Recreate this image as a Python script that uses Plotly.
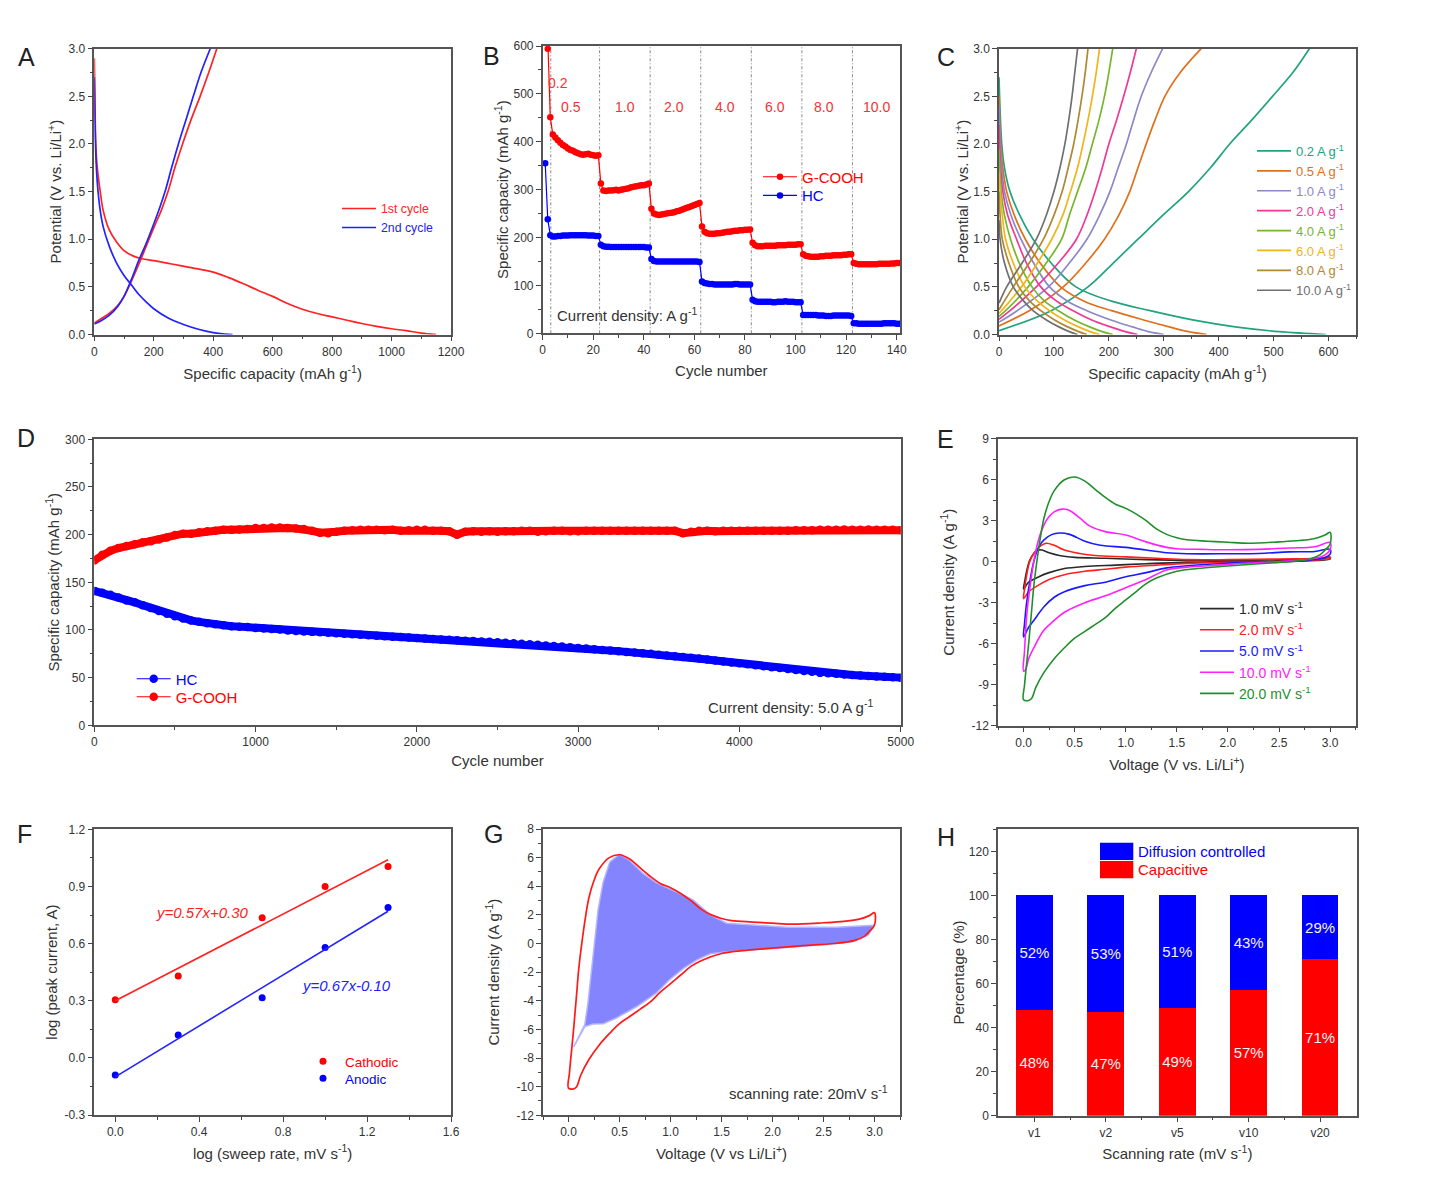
import plotly.graph_objects as go

FONT = "Liberation Sans"
FW, FH = 1410, 1165   # figure size; the page adds an 8 px body margin
RED, BLUE = "#ff0000", "#0000ff"

# ---------- A ----------
a_dis1_x = [0,2,5,10,20,30,50,75,100,130,160,200,260,330,400,450,500,550,600,650,700,750,800,850,900,950,1000,1050,1100,1150]
a_dis1_y = [2.9,2.5,2.0,1.75,1.5,1.3,1.1,.97,.88,.825,.795,.775,.74,.70,.655,.60,.535,.465,.40,.325,.265,.22,.185,.15,.115,.085,.06,.04,.015,0]
a_ch1_x = [0,20,50,80,100,125,150,175,200,225,248,272,297,325,356,385,412]
a_ch1_y = [.12,.16,.22,.31,.40,.56,.74,.93,1.12,1.3,1.5,1.76,2.0,2.25,2.5,2.75,3.0]
a_dis2_x = [0,2,5,10,20,30,50,75,100,125,150,175,200,250,300,350,400,440,465]
a_dis2_y = [2.7,2.3,1.9,1.6,1.3,1.13,.93,.75,.62,.52,.42,.34,.27,.17,.105,.055,.02,.005,0]
a_ch2_x = [0,20,50,80,100,125,150,175,200,220,238,260,283,308,333,360,390]
a_ch2_y = [.11,.14,.2,.3,.4,.58,.78,.96,1.16,1.33,1.5,1.75,2.0,2.25,2.5,2.76,3.0]

# ---------- B ----------
b_cycles = list(range(1, 142))
b_gcooh = [780,594,451,415,409,403,398,393,390,386,383,381,378,376,374,373,374,375,373,372,371,372,
 313,298,297,298,298,299,300,298,300,301,302,303,305,306,307,308,309,309,311,313,
 260,250,248,247,248,249,250,251,252,253,255,256,258,260,262,264,266,268,270,272,
 223,212,209,208,208,208,209,209,210,211,212,212,213,214,214,215,215,216,216,217,
 189,184,182,182,182,183,183,183,183,183,184,184,184,184,185,185,185,185,186,186,
 165,162,161,160,160,160,160,161,161,162,162,162,163,163,163,163,164,164,165,165,
 147,145,144,144,144,144,144,144,144,144,145,145,145,145,145,146,146,147,147]
b_hc = [355,238,205,202,202,203,203,204,204,204,205,205,205,205,205,205,205,204,204,204,203,203,
 185,182,181,181,180,180,180,180,180,180,180,180,180,180,180,180,180,180,179,179,
 155,151,150,150,150,150,150,150,150,150,150,150,150,150,150,150,150,150,150,149,
 108,105,104,103,103,102,102,102,102,102,102,102,102,103,103,102,102,102,102,102,
 70,67,66,66,66,66,66,66,65,65,66,66,66,67,66,66,66,65,65,65,
 38,38,38,38,38,38,37,37,37,36,36,36,37,37,37,37,37,37,37,36,
 21,21,20,20,20,20,20,20,20,20,20,20,21,21,21,21,21,20,20]
b_boundaries = [3.2,22.5,42.5,62.5,82.5,102.5,122.5]
b_rate_labels = ["0.2","0.5","1.0","2.0","4.0","6.0","8.0","10.0"]
b_rate_x = [6.1,11.3,32.5,52,72,92,111.3,132]
b_rate_y = [522,472,472,472,472,472,472,472]

# ---------- C ----------
c_names = ["0.2 A g<sup>-1</sup>","0.5 A g<sup>-1</sup>","1.0 A g<sup>-1</sup>","2.0 A g<sup>-1</sup>",
           "4.0 A g<sup>-1</sup>","6.0 A g<sup>-1</sup>","8.0 A g<sup>-1</sup>","10.0 A g<sup>-1</sup>"]
c_colors = ["#22a37f","#e0701c","#8c88c8","#ee3a96","#76b52e","#f0b51a","#b08732","#707070"]
c_dis_y = [[2.7,2.0,1.75,1.5,1.25,1,.75,.5,.35,.25,.15,.08,.03,0],
           [2.5,2.0,1.75,1.5,1.25,1,.75,.5,.35,.25,.15,.08,.03,0],
           [2.4,2.0,1.75,1.5,1.25,1,.75,.5,.35,.25,.15,.08,.03,0],
           [2.2,1.75,1.5,1.25,1,.75,.5,.35,.25,.15,.08,.03,0],
           [1.95,1.75,1.5,1.25,1,.75,.5,.35,.25,.15,.08,.03,0],
           [1.7,1.5,1.25,1,.75,.5,.35,.25,.15,.08,.03,0],
           [1.5,1.25,1,.75,.5,.35,.25,.15,.08,.03,0],
           [1.2,1,.75,.5,.35,.25,.15,.08,.03,0]]
c_dis_x = [[0,5,10,20,38,62,95,140,205,275,355,430,510,595],
           [0,3,7,14,28,48,75,112,155,205,265,310,345,378],
           [0,2,5,10,22,40,63,92,125,160,205,243,272,300],
           [0,3,7,16,32,50,76,105,135,170,203,230,252],
           [0,1.5,4,10,21,37,60,83,108,138,165,188,207],
           [0,2,6,12,26,47,70,92,120,145,166,183],
           [0,2,6,18,36,56,76,102,125,145,160],
           [0,2,10,26,45,62,87,109,128,143]]
c_ch_y = [[.04,.25,.5,.75,1,1.25,1.5,1.75,2,2.25,2.5,2.75,3],
          [.09,.25,.5,.75,1,1.25,1.5,1.75,2,2.25,2.5,2.75,3],
          [.13,.25,.5,.75,1,1.25,1.5,1.75,2,2.25,2.5,2.75,3],
          [.16,.25,.5,.75,1,1.25,1.5,1.75,2,2.25,2.5,2.75,3],
          [.19,.25,.5,.75,1,1.25,1.5,1.75,2,2.25,2.5,2.75,3],
          [.22,.5,.75,1,1.25,1.5,1.75,2,2.25,2.5,2.75,3],
          [.26,.5,.75,1,1.25,1.5,1.75,2,2.25,2.5,2.75,3],
          [.33,.5,.75,1,1.25,1.5,1.75,2,2.25,2.5,2.75,3]]
c_ch_x = [[0,95,162,208,253,298,345,385,420,460,498,535,565],
          [0,55,117,158,192,218,238,253,268,284,302,330,368],
          [0,33,90,128,160,183,202,217,232,245,259,277,298],
          [0,20,68,108,141,160,175,188,200,214,227,239,250],
          [0,12,53,86,114,128,143,158,170,182,192,200,207],
          [0,41,70,96,116,130,143,153,162,170,177,183],
          [0,26,55,81,100,115,126,136,144,151,157,162],
          [0,14,42,68,86,100,111,120,127,133,138,143]]

# ---------- D ----------
d_cycles = list(range(0, 5001, 50))
d_hc = [141,139,137,134,131,129,126,123,120,117,114.5,112,110,108.5,107,106,105,104,103.5,103,102,101.5,101,100.5,99.5,99,98.5,98,97.5,97,96.5,96,
 95.5,95,94.5,94,93.5,93,92.5,92,91.5,91,90.5,90,89.7,89.3,88.8,88.5,88,87.6,87.2,86.6,86,85.5,85,84.4,83.8,83.2,82.6,82,81,80.5,79.8,79,78.4,77.8,77,76.4,75.7,75,74,73.3,72.5,71.6,70.8,70,69,68,67,66,65,64,63,62,61,60.2,59,58,57,56.2,55,54.6,54,53.4,52.8,52.2,51.8,51.3,50.8,50.4,50]
d_gcooh = [173,179,183,186,188,190,192,193,195,197,
 199.5,201,201,202.5,203.5,204,205,205,205.5,206,
 207,207,207.5,207.5,207,206.5,206,204,202,201.5,
 203,204,204.5,205,205,205,204.5,205,204,204.5,
 205,205,204,204,203.5,200,203,203.5,203,203.5,
 203,203.5,203.5,204,204,203,203.5,204,204,203.5,
 203.5,204,204,204,204,204,204,204,204,204,
 204,204,204,201.5,203,204,204,203.5,204,204,
 204,204,204,204,204,204,204,204.5,204.5,204.5,
 205,205,205,205.5,205,205,205.5,205,205,205,204.5]

# ---------- E / G ----------
e_names = ["1.0 mV s<sup>-1</sup>","2.0 mV s<sup>-1</sup>","5.0 mV s<sup>-1</sup>","10.0 mV s<sup>-1</sup>","20.0 mV s<sup>-1</sup>"]
e_colors = ["#2a2a2a","#ff2020","#1a1aff","#ff20ff","#1f8f2a"]
e_x1 = [0,.01,.03,.06,.1,.14,.18,.25,.35,.5,.8,1.2,1.6,2,2.5,2.9,3,3,2.8,2.4,2,1.6,1.2,.9,.6,.4,.25,.15,.05,0]
e_y1 = [-2,-1.5,-.7,.1,.6,.85,.85,.65,.45,.32,.25,.15,.1,.1,.13,.18,.3,.2,.08,0,-.02,-.05,-.15,-.25,-.35,-.5,-.8,-1.1,-1.5,-2]
e_x2 = [0,.01,.03,.06,.1,.15,.22,.3,.4,.55,.7,1,1.3,1.6,2,2.5,2.9,3,3,2.8,2.4,2,1.6,1.3,1,.8,.6,.4,.25,.15,.05,0]
e_y2 = [-2.7,-2,-1,0,.6,1.05,1.35,1.2,.85,.6,.45,.35,.25,.15,.15,.2,.25,.35,.25,.1,0,-.05,-.12,-.25,-.4,-.55,-.7,-.95,-1.3,-1.7,-2.2,-2.7]
e_x5 = [0,.01,.03,.06,.1,.15,.2,.28,.35,.45,.6,.75,1,1.2,1.4,1.6,2,2.3,2.6,2.85,3,3,2.95,2.8,2.5,2.2,1.9,1.6,1.4,1.2,1,.8,.6,.4,.3,.2,.1,.05,0]
e_y5 = [-5.5,-4.5,-3,-1.5,0,1.1,1.6,2,2.1,2,1.5,1.2,1.05,.85,.65,.58,.58,.6,.72,.75,.9,.55,.3,.12,0,-.05,-.15,-.3,-.45,-.8,-1.1,-1.5,-1.75,-2.2,-2.6,-3.3,-4.3,-4.8,-5.5]
e_x10 = [0,.01,.03,.06,.1,.15,.2,.25,.3,.38,.45,.55,.65,.8,1,1.2,1.4,1.5,1.75,2,2.3,2.6,2.85,3,3,2.95,2.85,2.5,2.2,1.9,1.6,1.4,1.2,1,.8,.6,.4,.3,.2,.1,.05,.02,0]
e_y10 = [-8,-6.5,-4,-2,0,1.7,2.7,3.3,3.65,3.85,3.75,3.2,2.6,2.2,1.95,1.45,1.05,.95,.9,.87,.9,1,1.1,1.4,.9,.5,.25,0,-.1,-.25,-.4,-.6,-1.3,-1.9,-2.5,-3,-3.7,-4.3,-5,-6.3,-7.1,-7.9,-8]
e_x20 = [0,.01,.05,.08,.1,.13,.17,.2,.25,.3,.4,.5,.6,.7,.8,.9,1,1.1,1.2,1.3,1.4,1.5,1.6,1.8,2,2.2,2.5,2.7,2.85,2.95,3,3,2.95,2.9,2.8,2.6,2.3,2,1.7,1.5,1.3,1.2,1.1,1,.9,.8,.7,.6,.5,.4,.3,.2,.12,.08,.05,0]
e_y20 = [-10.1,-9,-6,-3.5,-1.8,0,2,3.2,4.4,5.2,6,6.2,5.9,5.3,4.7,4.2,3.9,3.5,3,2.4,2,1.75,1.6,1.5,1.42,1.35,1.45,1.55,1.7,1.95,2.15,1.3,.85,.5,.2,0,-.15,-.32,-.5,-.7,-1.2,-1.6,-2.2,-2.8,-3.4,-4.1,-4.6,-5.1,-5.6,-6.3,-7.1,-8.1,-9.2,-10,-10.15,-10.1]
g_cap_x = [.05,.16,.19,.24,.29,.34,.405,.5,.6,.73,.86,1.06,1.22,1.39,1.55,1.81,2.14,2.63,3,2.94,2.79,2.56,1.98,1.58,1.39,1.26,1.13,.99,.86,.67,.47,.34,.24,.16,.05]
g_cap_y = [-7.23,-5.67,-4.2,-1.1,2.35,4.3,5.7,6.25,5.8,4.9,4.25,3.6,3.05,2,1.42,1.3,1.14,1.14,1.28,.6,.14,-.05,-.33,-.56,-.72,-1.14,-1.72,-2.53,-3.47,-4.4,-5.2,-5.6,-5.63,-5.8,-7.23]

# ---------- F ----------
f_x = [0,.3,.7,1,1.3]
f_cath = [.305,.43,.735,.9,1.005]
f_anod = [-.09,.12,.315,.58,.79]
f_fit_x = [0,1.3]
f_fit_cath = [.30,1.04]
f_fit_anod = [-.10,.77]

# ---------- H ----------
h_cats = ["v1","v2","v5","v10","v20"]
h_pos = [0,1,2,3,4]
h_cap = [48,47,49,57,71]
h_dif = [52,53,51,43,29]

# panel boxes in page pixels: left, right, top, bottom
BOX = {1:(94.3,451,48.7,334.5), 2:(542.7,900,46,333.3), 3:(999,1356,48.7,334.5),
       4:(94.3,900.7,439.3,725.3), 5:(998,1355.7,438.7,725.7),
       6:(94.3,451,829.3,1115), 7:(543,900,829,1115.3), 8:(998,1356.5,829.3,1115.7)}
# per-panel title offsets: x title, y title
STAND = {1:(11,3),2:(9,1),3:(11,1),4:(7,2),5:(11,13),6:(10,3),7:(10,13),8:(10,1)}
def px(x): return (x-8)/FW
def py(y): return 1-(y-8)/FH

fig = go.Figure()

def axes(i, xt, yt, xr, yr, xd, xm, yd, ym, xfmt="", yfmt="", ytv=None, ytt=None, xtv=None, xtt=None, xminor=None):
    l,r,t,b = BOX[i]
    s = "" if i==1 else str(i)
    base = dict(showgrid=False, zeroline=False, showline=True, linecolor="#555555", linewidth=1.5, mirror=True,
                ticks="outside", ticklen=5, tickwidth=1.2, tickcolor="#444444",
                tickfont=dict(family=FONT,size=12,color="#333333"), automargin=False)
    xa = dict(base, domain=[px(l),px(r)], range=xr, anchor="y"+s, tick0=0, dtick=xd,
              title=dict(text=xt,font=dict(family=FONT,size=15,color="#333333"),standoff=STAND[i][0]),
              minor=dict(ticks="outside",ticklen=3,tickwidth=1,tickcolor="#444444",dtick=xm,tick0=0,showgrid=False),tickformat=xfmt)
    ya = dict(base, domain=[py(b),py(t)], range=yr, anchor="x"+s, tick0=0, dtick=yd,
              title=dict(text=yt,font=dict(family=FONT,size=15,color="#333333"),standoff=STAND[i][1]),
              minor=dict(ticks="outside",ticklen=3,tickwidth=1,tickcolor="#444444",dtick=ym,tick0=0,showgrid=False),tickformat=yfmt)
    if ytv is not None:
        ya.update(tickmode="array",tickvals=ytv,ticktext=ytt); ya.pop("dtick"); ya.pop("tick0")
    if xtv is not None:
        xa.update(tickmode="array",tickvals=xtv,ticktext=xtt); xa.pop("dtick"); xa.pop("tick0")
        xa["minor"] = dict(ticks="outside",ticklen=3,tickwidth=1,tickcolor="#444444",tickmode="array",tickvals=xminor,showgrid=False)
    fig.update_layout({"xaxis"+s:xa,"yaxis"+s:ya})

CAP = "Specific capacity (mAh g<sup>-1</sup>)"
POT = "Potential (V vs. Li/Li<sup>+</sup>)"
axes(1,CAP,POT,[0,1200],[0,3],200,100,.5,.25,yfmt=".1f")
axes(2,"Cycle number",CAP,[0,141.3],[0,600],20,10,100,50)
axes(3,CAP,POT,[0,650],[0,3],100,50,.5,.25,yfmt=".1f")
axes(4,"Cycle number",CAP,[0,5000],[0,300],1000,500,50,25)
axes(5,"Voltage (V vs. Li/Li<sup>+</sup>)","Current density (A g<sup>-1</sup>)",[-.25,3.25],[-12,9],.5,.25,3,1.5,xfmt=".1f",
     ytv=[-12,-9,-6,-3,0,3,6,9],ytt=["-12","-9","-6","-3","0","3","6","9"])
axes(6,"log (sweep rate, mV s<sup>-1</sup>)","log (peak current, A)",[-.1,1.6],[-.3,1.2],.4,.2,.3,.15,xfmt=".1f",
     ytv=[-.3,0,.3,.6,.9,1.2],ytt=["-0.3","0.0","0.3","0.6","0.9","1.2"])
axes(7,"Voltage (V vs Li/Li<sup>+</sup>)","Current density (A g<sup>-1</sup>)",[-.25,3.25],[-12,8],.5,.25,2,1,xfmt=".1f",
     ytv=[-12,-10,-8,-6,-4,-2,0,2,4,6,8],ytt=["-12","-10","-8","-6","-4","-2","0","2","4","6","8"])
axes(8,"Scanning rate (mV s<sup>-1</sup>)","Percentage (%)",[-.51,4.51],[0,130],1,.5,20,10,
     xtv=h_pos,xtt=h_cats,xminor=[.5,1.5,2.5,3.5])

def lbl(name,color): return f"<span style='color:{color}'>{name}</span>"
def line(i,x,y,color,name=None,legend=None,width=1.7,smooth=1.0):
    s = "" if i==1 else str(i)
    fig.add_trace(go.Scatter(x=x,y=y,mode="lines",line=dict(color=color,width=width,shape="spline",smoothing=smooth),
        xaxis="x"+s,yaxis="y"+s,name=lbl(name,color) if name else None,showlegend=bool(name),legend=legend,hoverinfo="skip"))

# A
line(1,a_dis1_x+[None]+a_ch1_x,a_dis1_y+[None]+a_ch1_y,"#ff2222","1st cycle","legend")
line(1,a_dis2_x+[None]+a_ch2_x,a_dis2_y+[None]+a_ch2_y,"#2222ff","2nd cycle","legend")

# B
for yv,c,n,lg in ((b_gcooh,RED,"G-COOH","legend2"),(b_hc,BLUE,"HC","legend7")):
    fig.add_trace(go.Scatter(x=b_cycles,y=yv,mode="lines+markers",line=dict(color=c,width=1.2),marker=dict(color=c,size=6.5),
        xaxis="x2",yaxis="y2",name=lbl(n,c),legend=lg))
for bx in b_boundaries:
    fig.add_shape(type="line",xref="x2",yref="y2 domain",x0=bx,x1=bx,y0=0,y1=1,line=dict(color="#888888",width=1,dash="3px,2px,1px,2px"),layer="below")
for t,x,y in zip(b_rate_labels,b_rate_x,b_rate_y):
    fig.add_annotation(x=x,y=y,xref="x2",yref="y2",text=t,showarrow=False,font=dict(family=FONT,size=14,color="#f33333"))
fig.add_annotation(x=5.0,y=39,xref="x2",yref="y2",xanchor="left",text="Current density: A g<sup>-1</sup>",showarrow=False,font=dict(family=FONT,size=15,color="#333333"))

# C
for k in range(8):
    line(3,c_dis_x[k]+[None]+c_ch_x[k],c_dis_y[k]+[None]+c_ch_y[k],c_colors[k],c_names[k],"legend3",1.7)

# D
for yv,c,n,lg in ((d_hc,BLUE,"HC","legend4"),(d_gcooh,RED,"G-COOH","legend8")):
    fig.add_trace(go.Scatter(x=d_cycles,y=yv,mode="lines",line=dict(color=c,width=8),xaxis="x4",yaxis="y4",showlegend=False))
    fig.add_trace(go.Scatter(x=d_cycles,y=yv,mode="lines+markers",line=dict(color=c,width=1.2),marker=dict(color=c,size=8.5),
        xaxis="x4",yaxis="y4",name=lbl(n,c),legend=lg))
fig.add_annotation(x=3790,y=20,xref="x4",yref="y4",xanchor="left",text="Current density: 5.0 A g<sup>-1</sup>",showarrow=False,font=dict(family=FONT,size=15,color="#333333"))

# E
for n,c,x,y in zip(e_names,e_colors,(e_x1,e_x2,e_x5,e_x10,e_x20),(e_y1,e_y2,e_y5,e_y10,e_y20)):
    line(5,x,y,c,n,"legend5",1.6)

# F
for yv,c,n,lg in ((f_cath,RED,"Cathodic","legend6"),(f_anod,BLUE,"Anodic","legend9")):
    fig.add_trace(go.Scatter(x=f_x,y=yv,mode="markers",marker=dict(color=c,size=7),xaxis="x6",yaxis="y6",name=lbl(n,c),legend=lg))
for yv,c in ((f_fit_cath,"#ff2222"),(f_fit_anod,"#2222ff")):
    fig.add_trace(go.Scatter(x=f_fit_x,y=yv,mode="lines",line=dict(color=c,width=1.6),xaxis="x6",yaxis="y6",showlegend=False))
fig.add_annotation(x=.186,y=.763,xref="x6",yref="y6",xanchor="left",text="<i>y=0.57x+0.30</i>",showarrow=False,font=dict(family=FONT,size=15,color="#ff2222"))
fig.add_annotation(x=.882,y=.379,xref="x6",yref="y6",xanchor="left",text="<i>y=0.67x-0.10</i>",showarrow=False,font=dict(family=FONT,size=15,color="#2222ff"))

# G
fig.add_trace(go.Scatter(x=g_cap_x,y=g_cap_y,mode="lines",fill="toself",fillcolor="#8484ff",line=dict(color="#b4b4ff",width=1.5),
    xaxis="x7",yaxis="y7",showlegend=False))
line(7,e_x20,e_y20,"#ff1a1a",None,None,1.7)
fig.add_annotation(x=1.55,y=-10.44,xref="x7",yref="y7",xanchor="left",text="scanning rate: 20mV s<sup>-1</sup>",showarrow=False,font=dict(family=FONT,size=15,color="#333333"))

# H
for yv,c in ((h_cap,RED),(h_dif,BLUE)):
    fig.add_trace(go.Bar(x=h_pos,y=yv,width=.514,marker=dict(color=c,line=dict(width=0)),text=[f"{v}%" for v in yv],textposition="inside",
        insidetextanchor="middle",textangle=0,constraintext="none",textfont=dict(family=FONT,size=15,color="#f4f4f4"),xaxis="x8",yaxis="y8",showlegend=False))
for y0,y1,c,t,ty in ((842.7,860,BLUE,"Diffusion controlled",851),(861,878.3,RED,"Capacitive",869.3)):
    fig.add_shape(type="rect",xref="paper",yref="paper",x0=px(1100),x1=px(1133.3),y0=py(y0),y1=py(y1),fillcolor=c,line=dict(width=0))
    fig.add_annotation(x=px(1136),y=py(ty),xref="paper",yref="paper",xanchor="left",yanchor="middle",text=t,showarrow=False,font=dict(family=FONT,size=15,color=c))

# panel letters
for t,x,y in (("A",26,57),("B",491,56),("C",946,57),("D",26,438),("E",945,439),("F",24,834),("G",493,834),("H",946,837)):
    fig.add_annotation(x=px(x),y=py(y),xref="paper",yref="paper",xanchor="center",yanchor="middle",text=t,showarrow=False,font=dict(family=FONT,size=25,color="#222222"))

def leg(x,y,size):
    return dict(x=px(x-5),y=py(y),xanchor="left",yanchor="top",bgcolor="rgba(0,0,0,0)",borderwidth=0,itemwidth=34,
                font=dict(family=FONT,size=size),tracegroupgap=0,traceorder="normal")

fig.update_layout(width=FW,height=FH,margin=dict(l=0,r=0,t=0,b=0),paper_bgcolor="white",plot_bgcolor="white",
    barmode="stack",hovermode=False,
    legend=leg(342,194,12.3),legend3=leg(1257,136,13),legend5=leg(1200,593,14),
    legend2=leg(763,160.5,15),legend7=leg(763,179.2,15),
    legend4=leg(136.7,662.5,15),legend8=leg(136.7,680.5,15),
    legend6=leg(306,1046,13.5),legend9=leg(306,1063,13.5))
fig.write_html("out.html")
